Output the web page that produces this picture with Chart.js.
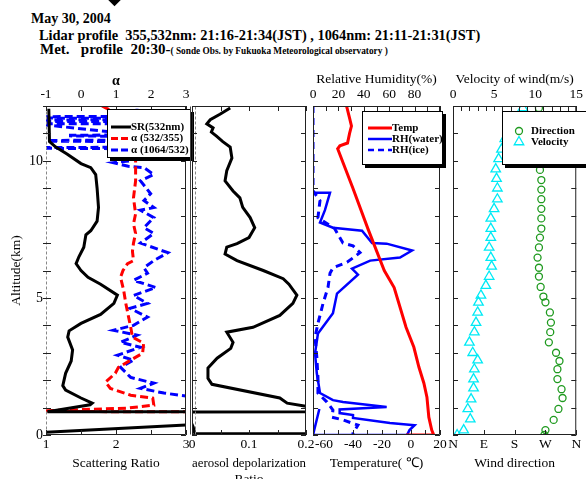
<!DOCTYPE html>
<html>
<head>
<meta charset="utf-8">
<script src="https://cdn.jsdelivr.net/npm/chart.js@4.4.1/dist/chart.umd.min.js"></script>
<style>
body { margin: 0; background: #fff; width: 586px; height: 479px; overflow: hidden; position: relative; font-family: 'Liberation Serif', serif; }
canvas { position: absolute; left: 0; top: 0; }
.t { position: absolute; font-weight: bold; white-space: pre; color: #000; line-height: 1; font-size: 14.4px; }
.mark { position: absolute; left: 109px; top: -7px; width: 11px; height: 11px; background: #000; transform: rotate(45deg); }
</style>
</head>
<body>
<div class="mark"></div>
<div class="t" style="left:31px;top:12px;font-size:14px">May 30, 2004</div>
<div class="t" style="left:39px;top:28px">Lidar profile  355,532nm: 21:16-21:34(JST) , 1064nm: 21:11-21:31(JST)</div>
<div class="t" style="left:40px;top:42px;font-size:15px">Met.   profile  20:30-<span style="font-size:9.3px">( Sonde Obs. by Fukuoka Meteorological observatory )</span></div>
<canvas id="p1" width="586" height="479"></canvas>
<canvas id="p2" width="586" height="479"></canvas>
<canvas id="p3" width="586" height="479"></canvas>
<canvas id="p4" width="586" height="479"></canvas>
<script>
// tick labels
const altTicks = [0, 5, 10];
const srTicks = [1, 2, 3];
const alphaTicks = [-1, 0, 1, 2, 3];
const depTicks = [0, 0.1, 0.2];
const rhTicks = [0, 20, 40, 60, 80];
const tempTicks = [-60, -40, -20, 0, 20];
const velTicks = [0, 5, 10, 15];
const dirTicks = [0, 90, 180, 270, 360];
const dirNames = ['N', 'E', 'S', 'W', 'N'];

// scattering ratio 532nm
const srAlt = [11.9, 10.7, 10.5, 10.25, 9.9, 9.75, 9.5, 9.0, 8.3, 7.8, 7.45, 7.3, 6.85, 6.5, 6.25, 6.0, 5.75, 5.5, 5.1, 4.8, 4.4, 4.07, 3.8, 3.57, 3.1, 2.7, 2.25, 1.8, 1.64, 1.35, 1.16, 1.1, 0.85, 0.84, 0.38, 0.1];
const srVal = [1.04, 1.05, 1.14, 1.3, 1.5, 1.64, 1.71, 1.73, 1.75, 1.73, 1.64, 1.57, 1.54, 1.47, 1.43, 1.5, 1.6, 1.78, 2.02, 1.97, 1.78, 1.5, 1.33, 1.31, 1.38, 1.36, 1.28, 1.24, 1.28, 1.5, 1.66, 1.63, 1.02, 12, 3.1, 1.0];

// angstrom exponent 532/355
const a355Alt = [12.0, 11.8, 10.0, 9.27, 8.65, 8.07, 7.7, 7.35, 7.0, 6.7, 6.36, 6.25, 6.0, 5.75, 5.27, 4.8, 4.3, 3.93, 3.57, 3.35, 2.98, 2.73, 2.47, 2.25, 1.93, 1.7, 1.45, 1.35, 1.09, 0.98, 0.91, 0.86, 0.84];
const a355Val = [0.6, 0.9, 1.56, 1.56, 1.5, 1.56, 1.5, 1.56, 1.5, 1.47, 1.5, 1.33, 1.2, 1.13, 1.22, 1.28, 1.36, 1.42, 1.47, 1.79, 1.76, 1.42, 1.07, 0.98, 0.7, 0.84, 1.42, 2.05, 2.08, 1.33, -0.4, -1.5, 4];

// angstrom exponent 1064/532
const a1064Alt = [11.9, 11.62, 11.61, 11.56, 11.55, 11.5, 11.49, 11.44, 11.43, 11.36, 11.35, 10.95, 10.93, 10.91, 10.89, 10.76, 10.74, 10.72, 10.7, 10.5, 10.48, 10.46, 10.44, 10.0, 9.93, 9.8, 9.75, 9.5, 9.27, 8.8, 8.55, 8.3, 8.2, 7.93, 7.56, 7.35, 7.0, 6.65, 6.36, 6.1, 5.9, 5.64, 5.38, 5.09, 4.8, 4.62, 4.3, 4.0, 3.82, 3.64, 3.38, 3.2, 2.91, 2.73, 2.47, 2.1, 1.89, 1.7, 1.53, 1.42, 1.38];
const a1064Val = [1.6, 1.6, -1.3, -1.3, 1.6, 1.6, -1.3, -1.3, 1.6, 1.6, -1.3, 1.6, -0.3, -0.3, 1.6, 1.6, -1.3, -1.3, 1.6, 1.6, -1.3, -1.3, 1.6, 1.4, 0.93, 1.35, 1.8, 2.08, 1.7, 1.99, 1.8, 2.08, 1.7, 2.08, 1.8, 2.08, 1.7, 2.48, 2.08, 1.8, 1.9, 1.5, 2.14, 1.5, 1.9, 1.4, 1.9, 1.5, 0.93, 1.6, 1.13, 1.7, 1.04, 1.5, 1.13, 1.42, 2.08, 1.7, 2.37, 3.0, 4.0];

// aerosol depolarization ratio
const depAlt = [11.93, 11.7, 11.5, 11.35, 11.2, 11.05, 10.9, 10.7, 10.5, 10.1, 9.64, 9.27, 8.9, 8.65, 8.3, 7.93, 7.56, 7.2, 6.98, 6.85, 6.6, 6.36, 6.0, 5.7, 5.5, 5.1, 4.8, 4.36, 3.93, 3.75, 3.38, 3.16, 2.8, 2.44, 2.07, 1.85, 1.35, 1.16, 1.05, 0.85, 0.84, 0.3, 0.05, 0.05];
const depVal = [0.067, 0.049, 0.032, 0.026, 0.037, 0.034, 0.043, 0.054, 0.067, 0.07, 0.061, 0.058, 0.072, 0.084, 0.089, 0.102, 0.11, 0.1, 0.079, 0.061, 0.058, 0.079, 0.125, 0.16, 0.17, 0.184, 0.177, 0.154, 0.107, 0.061, 0.072, 0.068, 0.044, 0.028, 0.028, 0.035, 0.154, 0.167, 0.2, 0.25, -0.01, 0.002, 0.005, 0.25];

// sonde: temperature, RH over water / ice
const tempAlt = [12.0, 11.56, 11.27, 11.0, 10.65, 10.55, 10.44, 9.0, 7.5, 6.0, 5.38, 3.93, 3.2, 2.47, 1.89, 1.38, 0.65, 0.18, 0.0, 0.0];
const tempVal = [-44.4, -42.3, -41, -42.3, -43.7, -49, -50.5, -40, -29.5, -18.4, -11.6, -3.4, 2, 5.5, 8.9, 11, 12.3, 14.3, 15.7, -3.4];
const rhwAlt = [8.84, 8.84, 8.2, 7.75, 7.56, 7.45, 7.0, 6.98, 6.73, 6.47, 6.36, 6.07, 5.85, 5.16, 4.44, 3.7, 2.98, 2.25, 1.53, 1.27, 1.2, 1.02, 0.93, 0.8, 0.73, 0.62, 0.44, 0.36, 0.18, 0.0, 0.0, 0.95];
const rhwVal = [0, 13.4, 9.4, 5.5, 15.7, 38.6, 46.5, 58, 78, 68.5, 45, 30.7, 35.4, 18.9, 15.7, 3.9, 1.6, 3, 5.5, 15.7, 23.6, 58, 21, 21, 31.5, 31.5, 60.6, 80, 76, 74, 0, 5];
const rhiAlt = [12.0, 8.9, 8.55, 7.93, 7.53, 7.0, 6.9, 6.65, 6.3, 6.1, 5.9, 5.38, 4.8, 4.07, 3.57, 2.84, 2.1, 1.53, 1.2, 0.91, 0.65, 0.55, 0.36, 0.07, 0.0];
const rhiVal = [0, 0, 5.5, 3.9, 17, 23.6, 31.5, 37, 26.8, 15.7, 13.4, 11.8, 7.9, 3.9, 1.6, 3, 3.9, 3.9, 11, 15.7, 15, 23.6, 35.4, 31.5, 31.5];

// wind
const dirAlt = [11.93, 11.55, 11.17, 10.8, 10.42, 10.05, 9.67, 9.3, 8.95, 8.6, 8.25, 7.9, 7.53, 7.2, 6.84, 6.47, 6.1, 5.78, 5.4, 5.05, 4.84, 4.47, 4.1, 3.75, 3.38, 3.0, 2.7, 2.4, 2.04, 1.67, 1.35, 0.95, 0.55, 0.18, 0.0];
const dirVal = [251, 252, 252, 253, 253, 254, 254, 258, 258, 258, 258, 258, 258, 254, 251, 247, 251, 251, 256, 264, 270, 283, 286, 284, 280, 301, 311, 305, 305, 317, 320, 308, 294, 270, 267];
const velAlt = [11.93, 11.55, 11.17, 10.8, 10.42, 10.07, 9.7, 9.35, 9.0, 8.6, 8.25, 7.9, 7.53, 7.2, 6.84, 6.47, 6.15, 5.78, 5.45, 5.09, 4.84, 4.47, 4.1, 3.75, 3.38, 3.0, 2.73, 2.4, 2.04, 1.71, 1.31, 0.95, 0.58, 0.18, 0.0];
const velVal = [8.5, 7.6, 6.9, 6.3, 5.9, 5.55, 5.2, 5.3, 5.4, 5.4, 5.0, 4.6, 4.6, 4.6, 4.4, 4.6, 4.7, 4.4, 4.0, 3.4, 3.1, 3.0, 2.8, 2.6, 2.0, 2.4, 3.0, 2.6, 2.5, 2.5, 2.2, 1.8, 2.1, 1.3, 0.5];

Chart.defaults.font.family = "'Liberation Serif', 'Times New Roman', serif";
Chart.defaults.color = '#000';

const RED = '#ff0000', BLUE = '#0000ff', GREEN = '#1f9a1f', CYAN = '#00eaf5';
const pts = (xs, ys) => xs.map((v, i) => ({ x: v, y: ys[i] }));
const W = 586, TOP = 106, BOT = 44;

// frame, inward tick marks and boxed legend
const frame = {
  id: 'frame',
  afterDatasetsDraw(chart, args, opt) {
    const { ctx, chartArea: a, scales } = chart;
    const seg = (x1, y1, x2, y2) => { ctx.beginPath(); ctx.moveTo(x1, y1); ctx.lineTo(x2, y2); ctx.stroke(); };
    ctx.save();
    ctx.strokeStyle = '#222';
    ctx.lineWidth = 1;
    const L = a.left + 0.5, R = a.right - 0.5, T = a.top + 0.5, B = a.bottom - 0.5;
    seg(L, T, R, T); seg(R, T, R, B); seg(L, B, R, B);
    if (opt.leftDash) { ctx.strokeStyle = '#888'; ctx.setLineDash([3, 2]); }
    seg(L, T, L, B);
    ctx.setLineDash([]);
    (opt.extra || []).forEach(e => {
      ctx.strokeStyle = e.color; ctx.setLineDash(e.dash || []);
      seg(L + e.dx, T, L + e.dx, B);
    });
    ctx.setLineDash([]);
    ctx.strokeStyle = '#222';
    (opt.ticks || []).forEach(m => {
      const s = scales[m.scale];
      for (let v = m.from; v <= m.to + 1e-9; v += m.step) {
        const p = Math.round(s.getPixelForValue(v)) + 0.5;
        m.edges.forEach(e => {
          if (e === 'top') seg(p, a.top, p, a.top + m.len);
          if (e === 'bottom') seg(p, a.bottom, p, a.bottom - m.len);
          if (e === 'left') seg(a.left - (m.out || 0), p, a.left + m.len, p);
          if (e === 'right') seg(a.right, p, a.right - m.len, p);
        });
      }
    });
    const g = opt.legend;
    if (g) {
      ctx.fillStyle = '#000';
      ctx.fillRect(g.x + 3, g.y + 3, g.w, g.h);
      ctx.fillStyle = '#fff';
      ctx.fillRect(g.x, g.y, g.w, g.h);
      ctx.strokeStyle = '#000';
      ctx.strokeRect(g.x + 0.5, g.y + 0.5, g.w - 1, g.h - 1);
      ctx.font = "bold 11px 'Liberation Serif'";
      ctx.textBaseline = 'middle';
      ctx.textAlign = 'left';
      g.items.forEach((it, i) => {
        const y = g.y + g.top + i * g.gap;
        ctx.strokeStyle = it.color;
        if (it.marker === 'circle') {
          ctx.lineWidth = 1.3;
          ctx.beginPath(); ctx.arc(g.x + g.sym, y, 3.5, 0, Math.PI * 2); ctx.stroke();
        } else if (it.marker === 'triangle') {
          ctx.lineWidth = 1.3;
          const r = 5.5, cx = g.x + g.sym;
          ctx.beginPath();
          ctx.moveTo(cx, y - r); ctx.lineTo(cx + r * 0.866, y + r / 2); ctx.lineTo(cx - r * 0.866, y + r / 2);
          ctx.closePath(); ctx.stroke();
        } else {
          ctx.lineWidth = it.width;
          ctx.setLineDash(it.dash || []);
          seg(g.x + g.l0, y, g.x + g.l1, y);
          ctx.setLineDash([]);
        }
        ctx.fillStyle = '#000';
        ctx.fillText(it.text, g.x + g.tx, y);
      });
    }
    ctx.restore();
  }
};

function hAxis(pos, min, max, ticks, o) {
  o = o || {};
  return {
    type: 'linear', position: pos, min: min, max: max,
    afterBuildTicks: s => { s.ticks = ticks.map(v => ({ value: v })); },
    afterFit: s => { s.height = pos === 'top' ? TOP : BOT; },
    grid: { display: false, drawTicks: false },
    border: { display: false },
    ticks: {
      display: ticks.length > 0, autoSkip: false, maxRotation: 0,
      padding: pos === 'top' ? 3 : 1,
      font: { size: 13.5 },
      callback: o.cb || (v => v)
    },
    title: o.title ? {
      display: true, text: o.title,
      font: { size: o.tsize || 13.5, weight: o.bold ? 'bold' : 'normal' },
      padding: pos === 'top' ? { top: o.tpad, bottom: 0 } : { top: 0, bottom: o.tpad }
    } : { display: false }
  };
}

function yAxis(left, labels) {
  return {
    type: 'linear', position: 'left', min: 0, max: 12,
    afterBuildTicks: s => { s.ticks = altTicks.map(v => ({ value: v })); },
    afterFit: s => { s.width = left; },
    grid: { display: false, drawTicks: false },
    border: { display: false },
    ticks: { display: labels, autoSkip: false, padding: 3, font: { size: 14 } },
    title: labels ? { display: true, text: 'Altitude(km)', font: { size: 13.5 }, padding: { top: 8, bottom: 0 } } : { display: false }
  };
}

function panel(id, left, right, datasets, scales, frameOpt) {
  return new Chart(document.getElementById(id), {
    type: 'scatter',
    data: { datasets: datasets },
    options: {
      responsive: false,
      animation: false,
      layout: { padding: { left: 0, right: W - right, top: 0, bottom: 0 } },
      plugins: { legend: { display: false }, tooltip: { enabled: false }, frame: frameOpt },
      scales: Object.assign({ y: yAxis(left, id === 'p1') }, scales)
    },
    plugins: [frame]
  });
}

const line = (data, color, width, dash, xAxisID) => ({
  data: data, xAxisID: xAxisID, showLine: true, borderColor: color, backgroundColor: color,
  borderWidth: width, borderDash: dash || [], pointRadius: 0, tension: 0
});
const yTicks = { scale: 'y', from: 0, to: 12, step: 1, len: 5, edges: ['left', 'right'] };

// panel 1: scattering ratio and angstrom exponents
panel('p1', 46, 186, [
  line(pts(srVal, srAlt), '#000', 3, null, 'x'),
  line(pts(a355Val, a355Alt), RED, 3, [8, 4], 'xt'),
  line(pts(a1064Val, a1064Alt), BLUE, 3, [8, 4], 'xt')
], {
  x: hAxis('bottom', 1, 3, srTicks, { title: 'Scattering Ratio', tpad: 7 }),
  xt: hAxis('top', -1, 3, alphaTicks, { title: 'α', bold: true, tsize: 14, tpad: 73 })
}, {
  leftDash: true,
  ticks: [Object.assign({ out: 3 }, yTicks),
    { scale: 'xt', from: -1, to: 3, step: 1, len: 5, edges: ['top'] },
    { scale: 'x', from: 1, to: 3, step: 0.5, len: 5, edges: ['bottom'] }],
  legend: {
    x: 107, y: 109, w: 84, h: 49, top: 18, gap: 11.5, l0: 4, l1: 24, tx: 24,
    items: [
      { text: 'SR(532nm)', color: '#000', width: 3 },
      { text: 'α (532/355)', color: RED, width: 3, dash: [7, 3] },
      { text: 'α (1064/532)', color: BLUE, width: 3, dash: [7, 3] }
    ]
  }
});

// panel 2: aerosol depolarization ratio
panel('p2', 192, 306, [
  line(pts(depVal, depAlt), '#000', 3, null, 'x')
], {
  x: hAxis('bottom', 0, 0.2, depTicks, { title: ['aerosol depolarization', 'Ratio'], tpad: -9 }),
  xt: hAxis('top', 0, 0.2, [], {})
}, {
  extra: [{ dx: -2, color: '#444' }, { dx: 3, color: '#888', dash: [3, 2] }],
  ticks: [yTicks,
    { scale: 'xt', from: 0, to: 0.2, step: 0.05, len: 5, edges: ['top'] },
    { scale: 'x', from: 0, to: 0.2, step: 0.05, len: 5, edges: ['bottom'] }]
});

// panel 3: temperature and relative humidity
panel('p3', 313, 440, [
  line(pts(tempVal, tempAlt), RED, 3, null, 'x'),
  line(pts(rhwVal, rhwAlt), BLUE, 2.5, null, 'xt'),
  line(pts(rhiVal, rhiAlt), BLUE, 3, [7, 5], 'xt')
], {
  x: hAxis('bottom', -67.5, 20, tempTicks, { title: 'Temperature( ℃)', tpad: 7 }),
  xt: hAxis('top', 0, 100, rhTicks, { title: 'Relative Humidity(%)', tpad: 71 })
}, {
  ticks: [yTicks,
    { scale: 'xt', from: 0, to: 100, step: 10, len: 5, edges: ['top'] },
    { scale: 'x', from: -60, to: 20, step: 10, len: 5, edges: ['bottom'] }],
  legend: {
    x: 362, y: 111, w: 81, h: 54, top: 17, gap: 11, l0: 6, l1: 30, tx: 30,
    items: [
      { text: 'Temp', color: RED, width: 3 },
      { text: 'RH(water)', color: BLUE, width: 2.5 },
      { text: 'RH(ice)', color: BLUE, width: 2.5, dash: [6, 4] }
    ]
  }
});

// panel 4: wind direction and velocity
panel('p4', 453, 580, [
  { data: pts(dirVal, dirAlt), xAxisID: 'x', pointStyle: 'circle', pointRadius: 3.5, borderColor: GREEN, backgroundColor: 'rgba(0,0,0,0)', borderWidth: 1.3 },
  { data: pts(velVal, velAlt), xAxisID: 'xt', pointStyle: 'triangle', pointRadius: 5.5, borderColor: CYAN, backgroundColor: 'rgba(0,0,0,0)', borderWidth: 1.3 }
], {
  x: hAxis('bottom', 0, 360, dirTicks, { title: 'Wind direction', tpad: 7, cb: (v, i) => dirNames[i] }),
  xt: hAxis('top', 0, 15, velTicks, { title: 'Velocity of wind(m/s)', tpad: 71 })
}, {
  ticks: [yTicks,
    { scale: 'xt', from: 0, to: 15, step: 1, len: 5, edges: ['top'] },
    { scale: 'x', from: 0, to: 360, step: 90, len: 5, edges: ['bottom'] }],
  legend: {
    x: 502, y: 111, w: 90, h: 54, top: 20, gap: 11, sym: 17, tx: 29,
    items: [
      { text: 'Direction', color: GREEN, marker: 'circle' },
      { text: 'Velocity', color: CYAN, marker: 'triangle' }
    ]
  }
});
</script>
</body>
</html>
